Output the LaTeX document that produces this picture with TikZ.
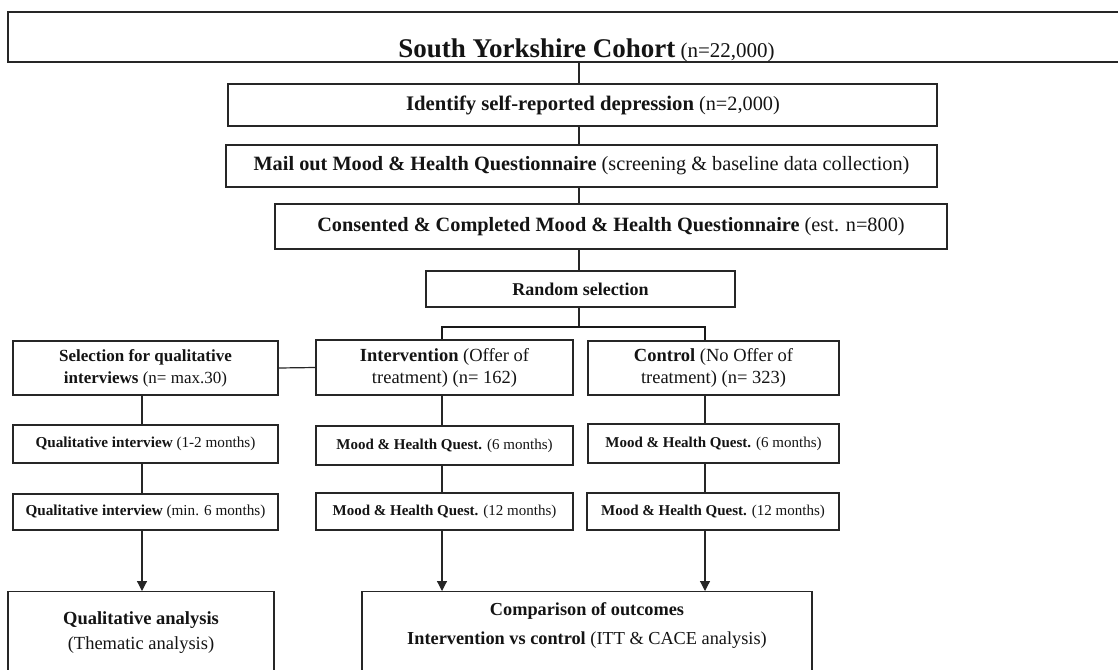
\documentclass[tikz,border=0pt]{standalone}
\usepackage{fontspec}
\setmainfont{Liberation Serif}
\usetikzlibrary{arrows.meta}
\begin{document}
\begin{tikzpicture}[x=1pt,y=-1pt,
  box/.style={draw=black!85, line width=1.2pt, rectangle, inner sep=0pt, align=center, text=black!92},
  link/.style={draw=black!85, line width=1.2pt},
  arr/.style={link, -{Triangle[length=10pt,width=10pt]}},
  bar/.style={draw=black!90, line width=2.4pt},
  big/.style={font=\fontsize{20.3}{24}\selectfont},
  mid/.style={font=\fontsize{18.5}{22}\selectfont},
  small/.style={font=\fontsize{15.2}{18}\selectfont},
  tiny/.style={font=\fontsize{15}{17}\selectfont}
]
\clip (0,0) rectangle (1118,669);
\fill[white] (0,0) rectangle (1118,669);

\coordinate (spine) at (579,0);
\coordinate (qx) at (142,0);
\coordinate (ix) at (442,0);
\coordinate (cx) at (705,0);
\coordinate (bl) at (442,327);
\coordinate (br) at (705,327);

% top chain
\node[box, font=\fontsize{21}{25}\selectfont, minimum width=1157pt, minimum height=50pt, text height=45pt, text depth=3pt] (top) at (586.5,37)
  {{\fontsize{27}{31}\selectfont\bfseries South Yorkshire Cohort} (n=22,000)};
\node[box, big, minimum width=709pt, minimum height=42pt] (ident) at (582.5,105)
  {\hspace*{21pt}{\fontsize{20.7}{24}\selectfont\bfseries Identify self-reported depression} (n=2,000)};
\node[box, big, minimum width=711pt, minimum height=42pt] (mail) at (581.5,166)
  {\textbf{Mail out Mood \& Health Questionnaire} (screening \& baseline data collection)};
\node[box, big, minimum width=672pt, minimum height=45pt] (cons) at (611,226.5)
  {\textbf{Consented \& Completed Mood \& Health Questionnaire} (est. n=800)};
\node[box, font=\fontsize{18}{22}\selectfont\bfseries, minimum width=309pt, minimum height=36pt] (rand) at (580.5,289)
  {Random selection};

% second level
\node[box, font=\fontsize{17}{22}\selectfont, minimum width=265pt, minimum height=54pt] (sel) at (145.5,368)
  {\textbf{Selection for qualitative}\\\textbf{interviews} (n= max.30)};
\node[box, mid, minimum width=257pt, minimum height=55pt] (int) at (444.5,367.5)
  {\textbf{Intervention} (Offer of\\treatment) (n= 162)};
\node[box, mid, minimum width=251pt, minimum height=54pt] (ctl) at (713.5,368)
  {\textbf{Control} (No Offer of\\treatment) (n= 323)};

% follow-ups
\node[box, small, minimum width=265pt, minimum height=38pt] (qi1) at (145.5,444)
  {\textbf{Qualitative interview} (1-2 months)};
\node[box, small, minimum width=265pt, minimum height=36pt] (qi2) at (145.5,512)
  {\textbf{Qualitative interview} (min. 6 months)};
\node[box, tiny, minimum width=257pt, minimum height=39pt] (im6) at (444.5,445.5)
  {\textbf{Mood \& Health Quest.} (6 months)};
\node[box, tiny, minimum width=257pt, minimum height=37pt] (im12) at (444.5,511.5)
  {\textbf{Mood \& Health Quest.} (12 months)};
\node[box, tiny, minimum width=251pt, minimum height=39pt] (cm6) at (713.5,443.5)
  {\textbf{Mood \& Health Quest.} (6 months)};
\node[box, tiny, minimum width=252pt, minimum height=37pt] (cm12) at (713,511.5)
  {\textbf{Mood \& Health Quest.} (12 months)};

% analyses
\node[box, mid, anchor=north, minimum width=266pt, inner ysep=20pt] (qa) at (141,591)
  {\textbf{Qualitative analysis}\\[3pt](Thematic analysis)\rule[-60pt]{0pt}{60pt}};
\node[box, font=\fontsize{18.3}{22}\selectfont, anchor=north, minimum width=450pt, inner ysep=11pt] (comp) at (587,591)
  {\textbf{Comparison of outcomes}\\[7pt]\textbf{Intervention vs control} (ITT \& CACE analysis)\rule[-60pt]{0pt}{60pt}};

% connectors
\draw[link] (top.south -| spine) -- (ident.north -| spine);
\draw[link] (ident.south -| spine) -- (mail.north -| spine);
\draw[link] (mail.south -| spine) -- (cons.north -| spine);
\draw[link] (cons.south -| spine) -- (rand.north -| spine);
\draw[link] (rand.south -| spine) -- (bl -| spine);
\draw[bar] (int.north -| bl) -- (bl) -- (br) -- (ctl.north -| br);
\draw[link] (sel.east) -- (int.west);

\draw[link] (sel.south -| qx) -- (qi1.north -| qx);
\draw[link] (qi1.south -| qx) -- (qi2.north -| qx);
\draw[arr] (qi2.south -| qx) -- (qa.north -| qx);

\draw[link] (int.south -| ix) -- (im6.north -| ix);
\draw[link] (im6.south -| ix) -- (im12.north -| ix);
\draw[arr] (im12.south -| ix) -- (comp.north -| ix);

\draw[link] (ctl.south -| cx) -- (cm6.north -| cx);
\draw[link] (cm6.south -| cx) -- (cm12.north -| cx);
\draw[arr] (cm12.south -| cx) -- (comp.north -| cx);
\end{tikzpicture}
\end{document}
